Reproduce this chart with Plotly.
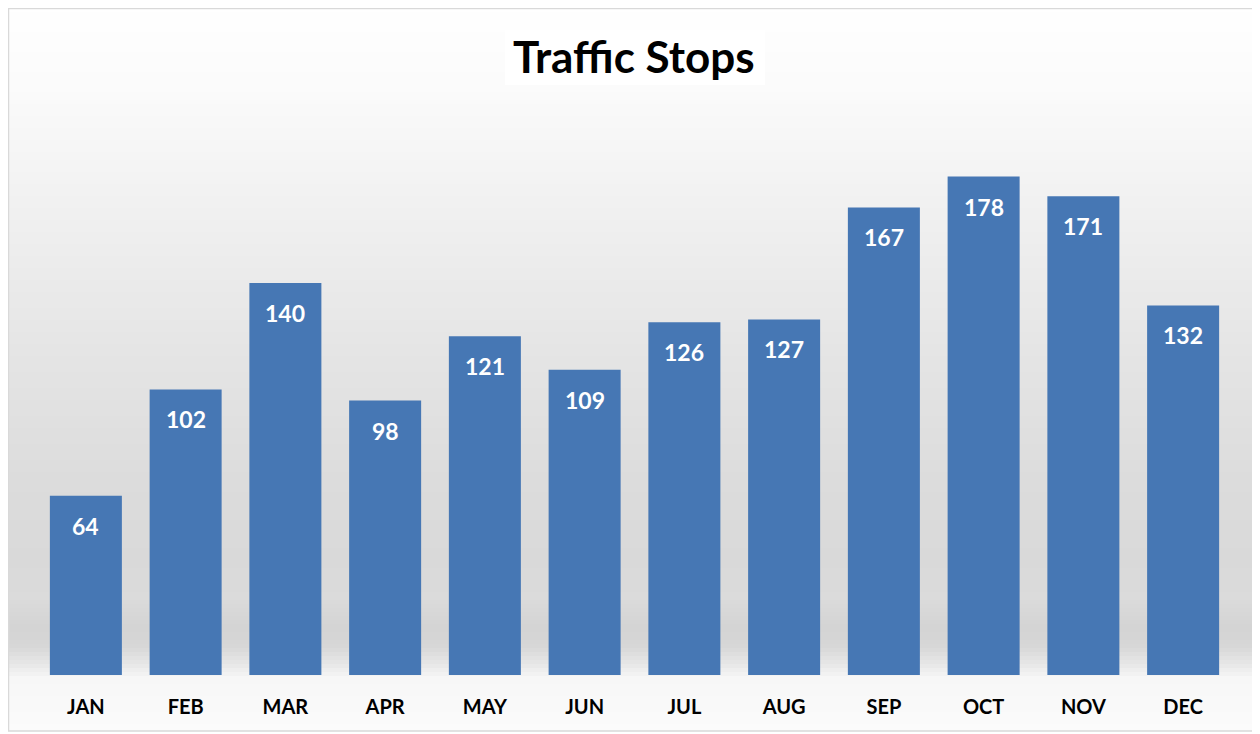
import plotly.graph_objects as go

# ---- data ----
months = ["JAN", "FEB", "MAR", "APR", "MAY", "JUN", "JUL", "AUG", "SEP", "OCT", "NOV", "DEC"]
stops = [64, 102, 140, 98, 121, 109, 126, 127, 167, 178, 171, 132]
title_text = "Traffic Stops"

# ---- geometry (target pixels; the page adds an 8px body margin) ----
OFF = 8
W, H = 1260 - OFF, 734 - OFF
ML, MR, MT, MB = 36 - OFF, 27, 115 - OFF, 59
PW, PH = W - ML - MR, H - MT - MB


def px_x(px):
    return (px - OFF - ML) / PW


def px_y(py):
    return (H - MB - (py - OFF)) / PH


# background gradient stops (target pixel y, gray level)
grad = [(3, 255), (100, 250), (200, 241), (350, 229), (480, 220), (560, 217),
        (600, 219), (625, 212), (645, 214), (665, 232), (678, 247), (731, 251)]


def gray_at(y):
    for (y0, g0), (y1, g1) in zip(grad[:-1], grad[1:]):
        if y0 <= y <= y1:
            t = (y - y0) / (y1 - y0)
            return g0 + (g1 - g0) * t
    return grad[-1][1]


shapes = []
step = 4
y = 8
while y < 731:
    y2 = min(y + step, 731)
    g = int(round(gray_at((y + y2) / 2)))
    shapes.append(dict(type="rect", xref="paper", yref="paper",
                       x0=px_x(8), x1=px_x(1259), y0=px_y(y2), y1=px_y(y),
                       fillcolor=f"rgb({g},{g},{g})", line=dict(width=0), layer="below"))
    y = y2

# title white box
shapes.append(dict(type="rect", xref="paper", yref="paper",
                   x0=px_x(505), x1=px_x(765), y0=px_y(85), y1=px_y(30),
                   fillcolor="white", line=dict(width=0), layer="below"))
# frame
shapes.append(dict(type="rect", xref="paper", yref="paper",
                   x0=px_x(8.5), x1=px_x(1258.5), y0=px_y(731), y1=px_y(8.5),
                   fillcolor="rgba(0,0,0,0)", line=dict(color="#d9d9d9", width=1.5), layer="above"))

fig = go.Figure()
fig.add_trace(go.Bar(
    x=months, y=stops,
    marker=dict(color="#4677b4", line=dict(width=0)),
    hoverinfo="x+y",
))

annotations = []
for m, v in zip(months, stops):
    annotations.append(dict(x=m, y=v, xref="x", yref="y", text=f"<b>{v}</b>",
                            showarrow=False, yanchor="middle", yshift=-30,
                            font=dict(family="Lato", size=23, color="white")))

annotations.append(dict(x=px_x(634), y=px_y(56), xref="paper", yref="paper",
                        text=f"<b>{title_text}</b>", showarrow=False,
                        xanchor="center", yanchor="middle",
                        font=dict(family="Lato", size=44, color="black")))

fig.update_layout(
    width=W, height=H,
    margin=dict(l=ML, r=MR, t=MT, b=MB, pad=0),
    paper_bgcolor="white",
    plot_bgcolor="rgba(0,0,0,0)",
    bargap=0.278,
    showlegend=False,
    shapes=shapes,
    annotations=annotations,
    xaxis=dict(showgrid=False, zeroline=False, showline=False, ticks="",
               ticklabelstandoff=18,
               tickfont=dict(family="Lato", size=20, color="black", weight="bold")),
    yaxis=dict(range=[0, 200], showgrid=False, zeroline=False, showline=False,
               showticklabels=False, ticks=""),
)

fig.write_html("out.html")
